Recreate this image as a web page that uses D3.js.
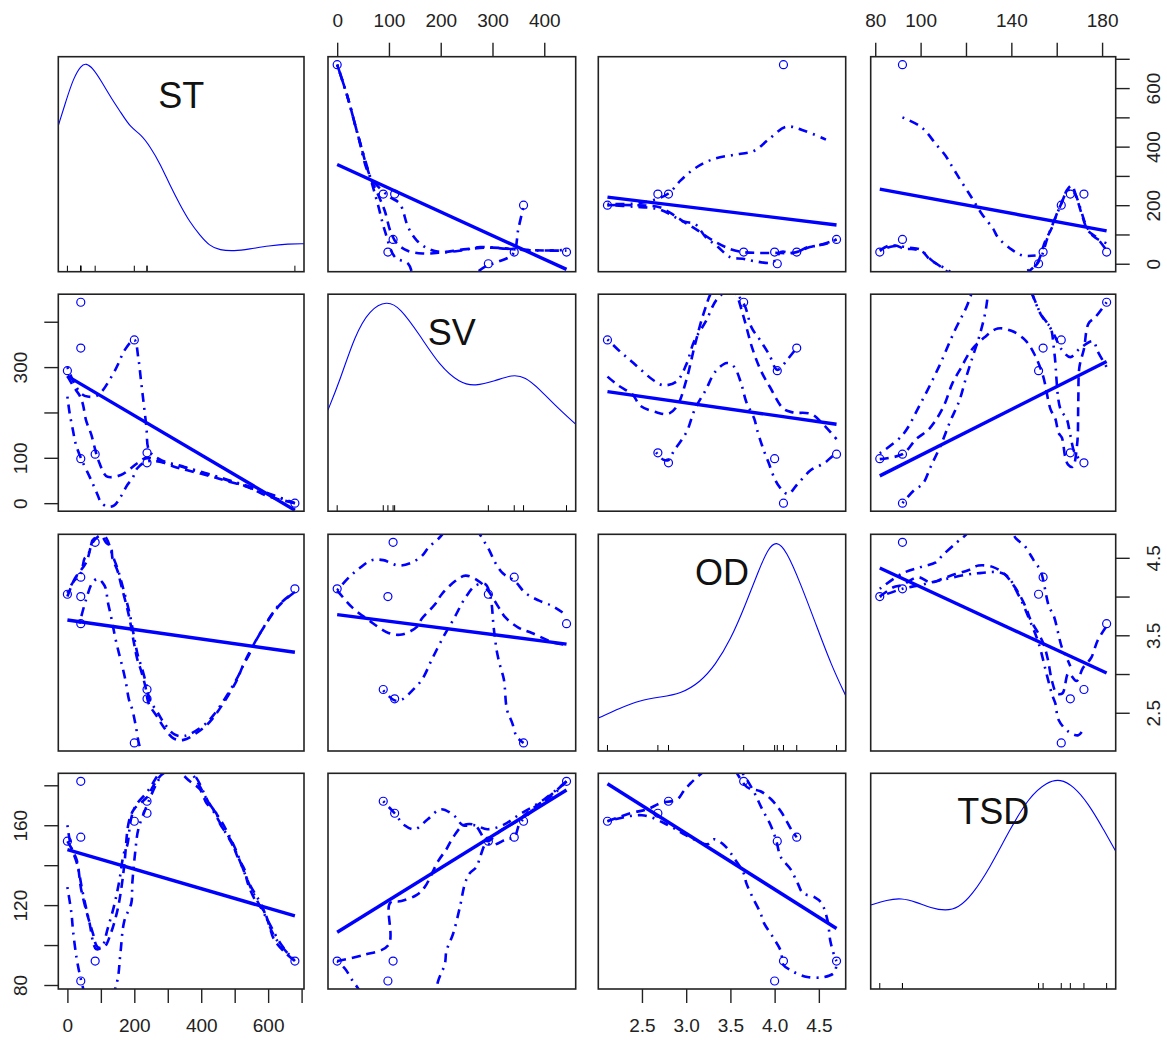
<!DOCTYPE html>
<html>
<head>
<meta charset="utf-8">
<script src="https://cdn.jsdelivr.net/npm/d3@7"></script>
<style>
  body { margin: 0; background: #ffffff; }
  svg { display: block; }
  text { font-family: "Liberation Sans", Arial, sans-serif; }
</style>
</head>
<body>
<svg id="chart" width="1167" height="1040"></svg>
<script>
// ---- observations (one entry per sample) ----
const variables = ["ST", "SV", "OD", "TSD"];
const valuesST  = [680, 238, 238, 200, 83, 40, 0, 40, 40];
const valuesSV  = [0, 89, 111, 360, 108, 98, 292, 342, 443];
const valuesOD  = [4.10, 2.80, 2.68, 2.11, 4.70, 4.00, 4.03, 4.25, 3.65];
const valuesTSD = [92, 172, 166, 162, 92, 82, 152, 154, 182];

// ---- axis ticks and which of them carry a label ----
const ticksST = [0, 100, 200, 300, 400, 500, 600, 700];
const labelsST = [0, 200, 400, 600];
const ticksSV = [0, 100, 200, 300, 400];
const labelsSVTop = [0, 100, 200, 300, 400];
const labelsSVLeft = [0, 100, 300];
const ticksOD = [2.5, 3.0, 3.5, 4.0, 4.5];
const labelsODBottom = [2.5, 3.0, 3.5, 4.0, 4.5];
const labelsODRight = [2.5, 3.5, 4.5];
const ticksTSD = [80, 100, 120, 140, 160, 180];
const labelsTSDTop = [80, 100, 140, 180];
const labelsTSDLeft = [80, 120, 160];

// ---- kernel density curves on the diagonal: [value, relative height] ----
const densityST = [[-27,0.68],[-3,0.80],[18,0.90],[41,0.96],[56,0.97],[77,0.945],[100,0.89],[130,0.81],[160,0.74],[189,0.67],[219,0.64],[248,0.58],[278,0.50],[307,0.40],[337,0.31],[366,0.23],[396,0.17],[425,0.12],[455,0.10],[499,0.096],[543,0.105],[602,0.12],[661,0.13],[707,0.13]];
const densitySV = [[-18,0.465],[5,0.60],[34,0.81],[63,0.93],[96,0.97],[121,0.94],[160,0.81],[198,0.67],[237,0.59],[266,0.576],[305,0.60],[338,0.63],[363,0.62],[392,0.56],[420,0.49],[461,0.40]];
const densityOD = [[2.007,0.152],[2.25,0.198],[2.48,0.235],[2.71,0.249],[2.935,0.263],[3.16,0.318],[3.33,0.397],[3.50,0.512],[3.67,0.674],[3.82,0.835],[3.93,0.937],[4.02,0.969],[4.13,0.928],[4.30,0.766],[4.47,0.581],[4.64,0.397],[4.80,0.258]];
const densityTSD = [[78,0.389],[85.1,0.413],[91.6,0.422],[98,0.403],[104.5,0.376],[111,0.362],[116.7,0.376],[122.7,0.436],[130.5,0.561],[139.2,0.737],[147.8,0.89],[155.6,0.96],[161.7,0.974],[167.3,0.941],[173.8,0.862],[180.3,0.746],[187,0.62]];

// ---- loess smooth (dashed) and spread curves (dot-dash), [x, y] ----
// row ST
const loess_ST_SV = [[0,680],[20,570],[40,440],[63,300],[80,232],[92,180],[103,110],[115,70],[135,45],[165,35],[200,38],[250,50],[300,55],[340,50],[400,45],[443,45]];
const upper_ST_SV = [[0,680],[20,570],[40,440],[63,300],[79,200],[92,113],[112,22],[137,0],[150,-60],[180,-150],[230,-120],[270,-30],[290,-6],[308,5],[340,34],[350,120],[361,202]];
const lower_ST_SV = [[0,680],[20,570],[40,440],[63,300],[100,230],[121,205],[137,125],[154,79],[175,52],[199,40],[240,45],[276,57],[327,51],[385,45],[443,47]];
const loess_ST_OD = [[2.11,200],[2.4,200],[2.7,193],[2.84,170],[2.97,144],[3.1,120],[3.3,80],[3.5,50],[3.64,40],[3.8,37],[4.0,37],[4.22,38],[4.4,57],[4.6,70],[4.7,83]];
const upper_ST_OD = [[2.11,205],[2.4,205],[2.6,215],[2.8,240],[2.935,284],[3.1,326],[3.31,358],[3.54,372],[3.77,386],[3.93,424],[4.13,468],[4.31,457],[4.58,424]];
const lower_ST_OD = [[2.11,200],[2.4,195],[2.7,185],[2.97,144],[3.1,136],[3.22,91],[3.35,60],[3.5,22],[3.64,17],[3.77,9],[3.98,5],[4.07,40],[4.22,36],[4.375,57],[4.49,62],[4.7,83]];
const loess_ST_TSD = [[82,45],[86,62],[89,62],[93,51],[97,50],[101,40],[104,15],[108,-5],[114,-40],[125,-90],[138,-70],[146,-35],[150,-10],[152,11],[155,79],[158,125],[160,170],[162.3,210],[164.4,250],[166.6,267],[168.7,227],[171,170],[173.8,113],[177.4,91],[182,45]];
const upper_ST_TSD = [[92,500],[99.5,471],[102.4,451],[106.7,409],[111,369],[113.2,341],[116.8,295],[121,244],[123.3,216],[127,170],[132,119],[134,91],[140.2,48],[145,28],[150.7,28]];
const lower_ST_TSD = [[82,45],[88,60],[95,55],[100,48],[103,25],[106,5],[111,-17],[120,-60],[135,-60],[145,-30],[150,-12],[153,20],[156,90],[159,150],[162,205],[164,240],[166,255],[168,240],[170,200],[173,130],[176,95],[179,80],[182,70]];
// row SV
const loess_SV_ST = [[0,280],[20,255],[36,238],[46,219],[56,182],[71,152],[86,110],[96,88],[110,65],[120,58],[160,62],[209,88],[238,100],[317,81],[356,73],[435,58],[484,47],[539,36],[593,17],[680,0]];
const upper_SV_ST = [[0,300],[20,265],[41,242],[60,235],[91,238],[135,283],[155,312],[169,335],[200,360],[212,320],[220,270],[228,220],[236,170],[245,115],[280,95],[350,80],[450,58],[550,35],[680,0]];
const lower_SV_ST = [[0,235],[7,197],[17,159],[24,133],[40,100],[71,51],[91,17],[100,2],[120,-8],[140,-5],[160,15],[179,40],[194,54],[209,77],[238,92],[300,88],[380,72],[480,50],[580,25],[680,0]];
const loess_SV_OD = [[2.11,279],[2.23,260],[2.4,238],[2.48,215],[2.67,200],[2.8,197],[2.9,215],[3.0,270],[3.1,350],[3.2,420],[3.3,470],[3.45,500],[3.55,470],[3.65,410],[3.75,340],[3.85,290],[3.95,255],[4.1,208],[4.21,200],[4.41,197],[4.53,178],[4.7,141]];
const upper_SV_OD = [[2.11,361],[2.27,331],[2.38,313],[2.5,292],[2.63,271],[2.74,260],[2.89,268],[3.0,305],[3.09,357],[3.22,400],[3.35,450],[3.5,470],[3.65,440],[3.74,387],[3.84,358],[3.94,327],[4.03,294],[4.15,318],[4.26,345]];
const lower_SV_OD = [[2.66,112],[2.74,96],[2.8,95],[2.86,115],[2.94,137],[3.01,159],[3.1,208],[3.22,249],[3.33,290],[3.46,309],[3.54,301],[3.62,265],[3.68,223],[3.77,186],[3.8,163],[3.86,126],[3.93,90],[4.03,43],[4.15,20],[4.25,40],[4.41,73],[4.56,88],[4.65,103],[4.71,112]];
const loess_SV_TSD = [[82,97],[92,108],[98,141],[104,165],[110,212],[114,264],[118,300],[122,335],[128,365],[134,385],[140,380],[146,360],[150,330],[154,280],[157.2,208],[159.4,186],[160.8,155],[162.3,144],[163.7,103],[165,85],[167,80],[169,130],[169.5,223],[170,300],[172,340],[174,396],[177,410],[182,443]];
const upper_SV_TSD = [[82,110],[92,150],[100,220],[108,300],[115,380],[120,430],[126,500],[135,540],[145,500],[150,451],[153,417],[156,396],[159,370],[162,340],[166,322],[170,340],[176,357],[178,335],[182,300]];
const lower_SV_TSD = [[92,0],[97,28],[101,43],[104.5,81],[109,129],[113,180],[117,225],[120.4,283],[123.3,328],[126,370],[128.5,420],[130,470],[132,520],[140,560],[148,480],[150,451],[152.9,417],[155.8,396],[157.2,389],[159,330],[161.6,208],[164.4,186],[166,150],[168,110],[171.6,90]];
// row OD
const loess_OD_ST = [[0,4.0],[22,4.23],[56,4.44],[76,4.7],[100,4.79],[115,4.7],[130,4.64],[135,4.49],[150,4.33],[160,4.16],[184,3.75],[199,3.4],[209,3.19],[219,3.06],[233,2.84],[243,2.62],[268,2.45],[287,2.32],[317,2.17],[347,2.15],[405,2.3],[435,2.43],[504,2.9],[524,3.1],[543,3.25],[563,3.43],[632,3.88],[680,4.06]];
const upper_OD_ST = [[0,4.05],[16,4.18],[41,4.31],[51,4.49],[61,4.53],[76,4.72],[100,4.82],[118,4.74],[135,4.53],[150,4.36],[162,4.18],[186,3.78],[201,3.44],[211,3.23],[221,3.1],[235,2.88],[246,2.67],[270,2.5],[290,2.36],[320,2.22],[350,2.2],[405,2.33],[435,2.46],[504,2.92],[543,3.27],[632,3.89],[680,4.06]];
const lower_OD_ST = [[36,3.65],[55,3.95],[75,4.18],[91,4.23],[105,4.18],[115,4.1],[120,3.95],[130,3.75],[145,3.43],[154,3.27],[164,3.1],[174,2.91],[184,2.67],[194,2.54],[204,2.34],[214,2.1],[223,1.99],[238,1.85]];
const loess_OD_SV = [[0,4.08],[29,3.86],[60,3.7],[99,3.53],[125,3.51],[156,3.62],[163,3.71],[189,3.9],[202,4.03],[228,4.2],[248,4.27],[273,4.2],[289,4.1],[312,3.86],[325,3.73],[350,3.6],[376,3.53],[421,3.4],[443,3.38]];
const upper_OD_SV = [[0,4.08],[23,4.25],[42,4.36],[67,4.47],[89,4.47],[118,4.4],[141,4.43],[163,4.52],[176,4.63],[196,4.75],[215,4.88],[250,4.95],[270,4.85],[283,4.72],[293,4.61],[305,4.44],[320,4.3],[343,4.2],[363,4.05],[389,3.95],[415,3.88],[434,3.8],[443,3.75]];
const lower_OD_SV = [[89,2.79],[111,2.66],[125,2.67],[144,2.78],[164,2.93],[183,3.19],[206,3.49],[225,3.71],[248,3.99],[267,4.14],[286,4.16],[296,4.0],[302,3.62],[305,3.45],[309,3.27],[315,3.1],[322,2.93],[328,2.54],[338,2.37],[347,2.19],[360,2.11]];
const loess_OD_TSD = [[82,4.0],[88,4.12],[92,4.15],[98.8,4.25],[104.5,4.18],[109.6,4.23],[115.4,4.29],[121,4.34],[125.5,4.4],[132,4.38],[137,4.29],[140.6,4.16],[143.5,4.03],[146.4,3.86],[148.6,3.69],[152.2,3.51],[154.3,3.38],[156,3.2],[158,2.9],[160,2.75],[162.5,2.75],[165.2,3.01],[168.7,2.91],[171.6,3.08],[175.2,3.21],[178,3.43],[182,3.62]];
const upper_OD_TSD = [[82,4.1],[92,4.3],[100,4.38],[106.7,4.44],[109.6,4.53],[116,4.7],[119.7,4.79],[125,4.95],[132,5.05],[138,4.95],[142,4.75],[145.7,4.66],[148.6,4.53],[150,4.46],[152.9,4.33],[156.5,3.88],[158.7,3.75],[162.3,3.34],[164.4,3.21],[166,3.1]];
const lower_OD_TSD = [[82,4.0],[92,4.1],[100,4.15],[110,4.22],[125,4.3],[137,4.29],[143.5,4.0],[148,3.7],[152,3.4],[155.8,2.97],[158,2.73],[159.4,2.62],[160.8,2.41],[165,2.26],[169.5,2.21],[172,2.3]];
// row TSD
const loess_TSD_ST = [[0,152],[27,143],[41,128],[60,115],[76,106],[90,99],[110,99],[130,106],[149,117],[160,127],[170,140],[184,162],[199,168],[218,171],[238,174],[258,180],[287,186],[327,187],[366,182],[396,178],[416,171],[445,166],[455,161],[490,152],[509,144],[529,138],[539,131],[563,122],[588,117],[603,110],[617,103],[652,96],[680,92]];
const upper_TSD_ST = [[0,160],[10,150],[30,140],[45,127],[65,112],[86,98],[103,99],[120,108],[140,120],[155,132],[169,146],[179,150],[190,163],[205,170],[240,177],[270,185],[300,192],[340,192],[380,184],[420,172],[460,162],[500,149],[540,132],[580,120],[620,104],[680,92]];
const lower_TSD_ST = [[0,129],[12,116],[17,107],[27,94],[36,86],[46,79],[60,70],[90,62],[120,68],[149,82],[158,95],[170,112],[191,121],[194,131],[203,147],[212,158],[238,170],[270,182],[300,190],[330,192],[380,185],[420,172],[460,160],[500,148],[550,128],[600,112],[640,100],[680,92]];
const loess_TSD_SV = [[0,92],[50,95],[99,100],[102,121],[124,122],[153,125],[169,129],[195,142],[211,148],[224,154],[244,160],[266,160],[290,152],[314,157],[353,163],[366,166],[417,176],[443,182]];
const upper_TSD_SV = [[89,172],[111,166],[130,160],[150,158],[175,163],[200,168],[225,165],[243,160],[266,160],[290,158],[320,160],[350,165],[400,173],[443,182]];
const lower_TSD_SV = [[0,92],[15.6,88],[30,82],[41,78],[55,70],[120,55],[180,65],[195,82],[208,90.5],[211,97],[224,105.7],[237,119],[247,131],[256,136],[269,139],[276,144],[288,151],[300,150],[327,153],[342,154],[353,161],[380,168],[420,176],[443,182]];
const loess_TSD_OD = [[2.11,162],[2.37,166],[2.56,168],[2.71,171],[2.9,173],[2.97,177],[3.05,181],[3.2,187],[3.35,192],[3.5,190],[3.69,179],[3.84,177],[3.96,173],[4.07,167],[4.2,157],[4.25,154]];
const upper_TSD_OD = [[3.2,195],[3.4,195],[3.6,188],[3.75,178],[3.86,168],[3.96,159.5],[4.02,152],[4.07,144],[4.18,138],[4.26,131],[4.32,126],[4.45,124],[4.53,121],[4.6,112],[4.63,102],[4.68,94],[4.7,92]];
const lower_TSD_OD = [[2.11,162],[2.5,165],[2.8,160],[3.0,155],[3.24,150.5],[3.31,153],[3.43,150],[3.55,143],[3.65,136],[3.68,131],[3.75,124],[3.84,116],[3.88,111],[3.98,104],[4.07,97],[4.1,90],[4.2,87],[4.24,86],[4.37,84],[4.56,84],[4.67,86],[4.7,90]];

// ---- page layout of the 4x4 panel grid ----
const colLeft = [58.3, 328, 598.3, 870.7];
const colWidth = [245.7, 247.7, 247.4, 245];
const rowTop = [56.7, 294.2, 534.3, 773.3];
const rowHeight = [215, 217, 216.7, 215.7];
const blue = "#0000ff";

const data = { ST: valuesST, SV: valuesSV, OD: valuesOD, TSD: valuesTSD };
const densities = { ST: densityST, SV: densitySV, OD: densityOD, TSD: densityTSD };
const curves = {
  ST_SV: [loess_ST_SV, upper_ST_SV, lower_ST_SV], ST_OD: [loess_ST_OD, upper_ST_OD, lower_ST_OD], ST_TSD: [loess_ST_TSD, upper_ST_TSD, lower_ST_TSD],
  SV_ST: [loess_SV_ST, upper_SV_ST, lower_SV_ST], SV_OD: [loess_SV_OD, upper_SV_OD, lower_SV_OD], SV_TSD: [loess_SV_TSD, upper_SV_TSD, lower_SV_TSD],
  OD_ST: [loess_OD_ST, upper_OD_ST, lower_OD_ST], OD_SV: [loess_OD_SV, upper_OD_SV, lower_OD_SV], OD_TSD: [loess_OD_TSD, upper_OD_TSD, lower_OD_TSD],
  TSD_ST: [loess_TSD_ST, upper_TSD_ST, lower_TSD_ST], TSD_SV: [loess_TSD_SV, upper_TSD_SV, lower_TSD_SV], TSD_OD: [loess_TSD_OD, upper_TSD_OD, lower_TSD_OD]
};
// number of decimals shown on each variable's tick labels
const labelDigits = { ST: 0, SV: 0, OD: 1, TSD: 0 };

// R-style 4% range extension
function padded(v) {
  const [lo, hi] = d3.extent(v);
  const r = hi - lo;
  return [lo - 0.04 * r, hi + 0.04 * r];
}

const xScale = variables.map((v, j) => d3.scaleLinear().domain(padded(data[v])).range([colLeft[j], colLeft[j] + colWidth[j]]));
const yScale = variables.map((v, i) => d3.scaleLinear().domain(padded(data[v])).range([rowTop[i] + rowHeight[i], rowTop[i]]));

// least-squares line of y on x
function leastSquares(xs, ys) {
  const mx = d3.mean(xs), my = d3.mean(ys);
  let sxy = 0, sxx = 0;
  xs.forEach((x, k) => { sxy += (x - mx) * (ys[k] - my); sxx += (x - mx) * (x - mx); });
  const b = sxy / sxx;
  return x => my + b * (x - mx);
}

const svg = d3.select("#chart");
const defs = svg.append("defs");

variables.forEach((rowVar, i) => {
  variables.forEach((colVar, j) => {
    const x = xScale[j], y = yScale[i];
    const clipId = `clip-${i}-${j}`;
    defs.append("clipPath").attr("id", clipId).append("rect")
      .attr("x", colLeft[j]).attr("y", rowTop[i]).attr("width", colWidth[j]).attr("height", rowHeight[i]);
    const g = svg.append("g");
    const inner = g.append("g").attr("clip-path", `url(#${clipId})`);

    if (i === j) {
      // density curve of the variable
      const dy = d3.scaleLinear().domain([0, 1]).range([rowTop[i] + rowHeight[i], rowTop[i]]);
      inner.append("path")
        .attr("d", d3.line().x(d => x(d[0])).y(d => dy(d[1])).curve(d3.curveBasis)(densities[colVar]))
        .attr("fill", "none").attr("stroke", blue).attr("stroke-width", 1.1);
      // rug of the observations
      inner.selectAll("line.rug").data(data[colVar]).join("line")
        .attr("x1", d => x(d)).attr("x2", d => x(d))
        .attr("y1", rowTop[i] + rowHeight[i]).attr("y2", rowTop[i] + rowHeight[i] - 6)
        .attr("stroke", "#000").attr("stroke-width", 1);
      g.append("text")
        .attr("x", colLeft[j] + colWidth[j] / 2).attr("y", rowTop[i] + 51)
        .attr("text-anchor", "middle").attr("font-size", 36).attr("fill", "#111")
        .text(colVar);
    } else {
      const xs = data[colVar], ys = data[rowVar];
      const fit = leastSquares(xs, ys);
      const [x0, x1] = d3.extent(xs);
      inner.append("line")
        .attr("x1", x(x0)).attr("y1", y(fit(x0))).attr("x2", x(x1)).attr("y2", y(fit(x1)))
        .attr("stroke", blue).attr("stroke-width", 3.4);
      const [smooth, up, low] = curves[`${rowVar}_${colVar}`];
      const line = d3.line().x(d => x(d[0])).y(d => y(d[1])).curve(d3.curveCatmullRom.alpha(0.5));
      inner.append("path").attr("d", line(smooth)).attr("fill", "none")
        .attr("stroke", blue).attr("stroke-width", 2.6).attr("stroke-dasharray", "9,6");
      [up, low].forEach(c => inner.append("path").attr("d", line(c)).attr("fill", "none")
        .attr("stroke", blue).attr("stroke-width", 2.6).attr("stroke-dasharray", "2,6,9,6"));
      inner.selectAll("circle").data(xs.map((v, k) => [v, ys[k]])).join("circle")
        .attr("cx", d => x(d[0])).attr("cy", d => y(d[1])).attr("r", 4)
        .attr("fill", "none").attr("stroke", blue).attr("stroke-width", 1.2);
    }
    g.append("rect")
      .attr("x", colLeft[j]).attr("y", rowTop[i]).attr("width", colWidth[j]).attr("height", rowHeight[i])
      .attr("fill", "none").attr("stroke", "#222").attr("stroke-width", 1.6);
  });
});

// ---- outer axes, alternating sides as in a pairs plot ----
function drawAxis(axisFn, scale, variable, ticks, labels, transform, side) {
  const digits = labelDigits[variable];
  const ax = axisFn(scale).tickValues(ticks).tickSize(14).tickSizeOuter(0)
    .tickFormat(d => labels.includes(d) ? d.toFixed(digits) : "");
  const g = svg.append("g").attr("transform", transform).call(ax);
  g.select(".domain").remove();
  g.selectAll(".tick line").attr("stroke", "#222").attr("stroke-width", 1.4);
  g.selectAll(".tick text").attr("font-size", 19).attr("fill", "#222")
    .attr("font-family", "'Liberation Sans', Arial, sans-serif");
  if (side === "top") g.selectAll(".tick text").attr("y", -30).attr("dy", 0);
  if (side === "bottom") g.selectAll(".tick text").attr("y", 30).attr("dy", "0.71em");
  if (side === "left") g.selectAll(".tick text").attr("transform", "rotate(-90)").attr("x", 0).attr("y", -31).attr("dy", 0).attr("text-anchor", "middle");
  if (side === "right") g.selectAll(".tick text").attr("transform", "rotate(-90)").attr("x", 0).attr("y", 44).attr("dy", 0).attr("text-anchor", "middle");
}

drawAxis(d3.axisTop, xScale[1], "SV", ticksSV, labelsSVTop, `translate(0,${rowTop[0]})`, "top");
drawAxis(d3.axisTop, xScale[3], "TSD", ticksTSD, labelsTSDTop, `translate(0,${rowTop[0]})`, "top");
drawAxis(d3.axisBottom, xScale[0], "ST", ticksST, labelsST, `translate(0,${rowTop[3] + rowHeight[3]})`, "bottom");
drawAxis(d3.axisBottom, xScale[2], "OD", ticksOD, labelsODBottom, `translate(0,${rowTop[3] + rowHeight[3]})`, "bottom");
drawAxis(d3.axisLeft, yScale[1], "SV", ticksSV, labelsSVLeft, `translate(${colLeft[0]},0)`, "left");
drawAxis(d3.axisLeft, yScale[3], "TSD", ticksTSD, labelsTSDLeft, `translate(${colLeft[0]},0)`, "left");
drawAxis(d3.axisRight, yScale[0], "ST", ticksST, labelsST, `translate(${colLeft[3] + colWidth[3]},0)`, "right");
drawAxis(d3.axisRight, yScale[2], "OD", ticksOD, labelsODRight, `translate(${colLeft[3] + colWidth[3]},0)`, "right");
</script>
</body>
</html>
